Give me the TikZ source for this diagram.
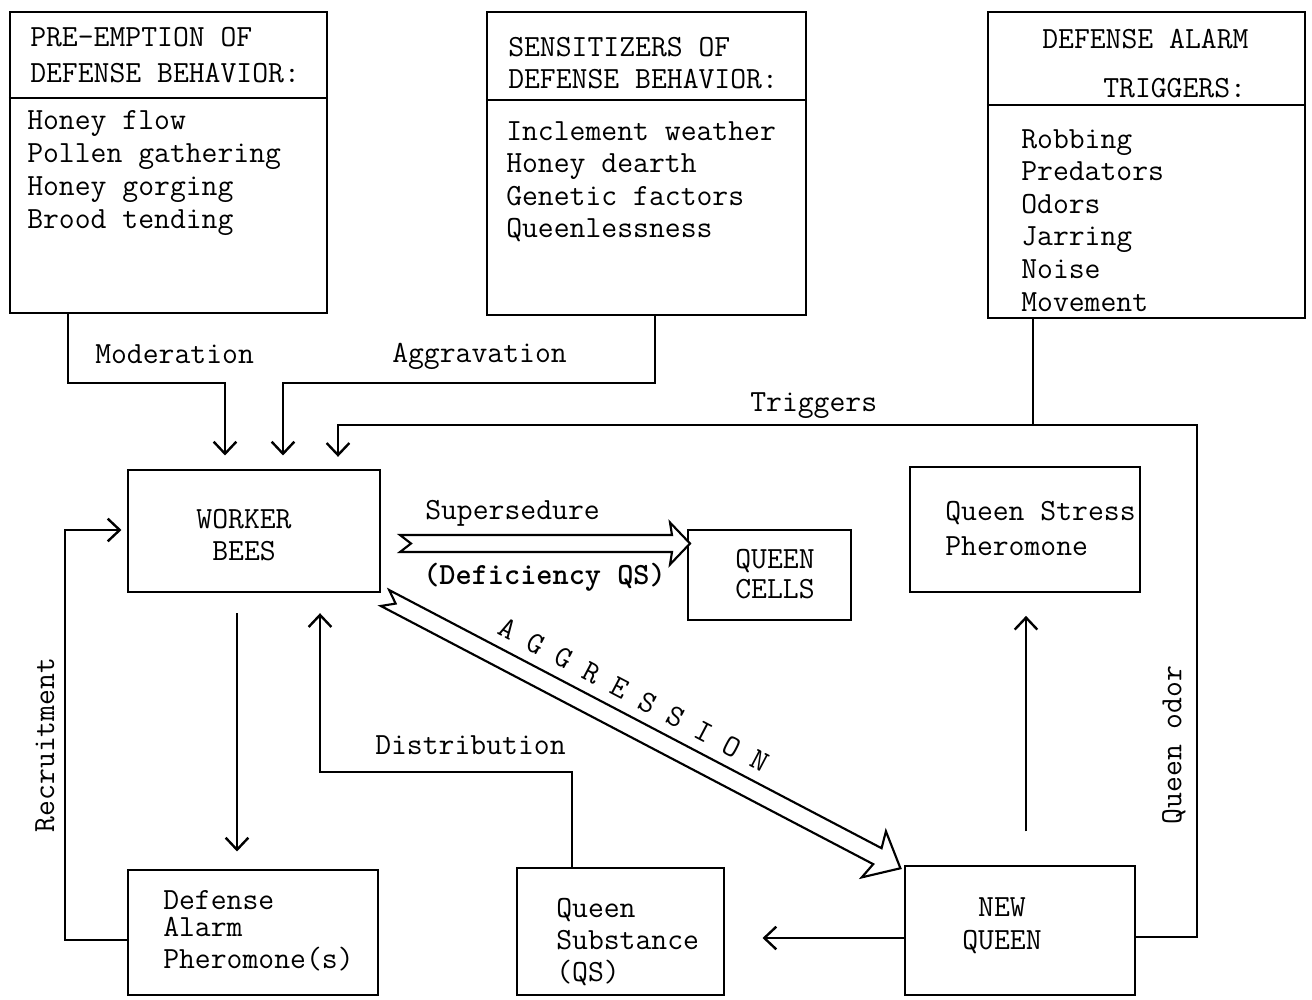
\documentclass[tikz,border=0pt]{standalone}
\usepackage{fontspec}
\usetikzlibrary{arrows.meta}
\newcommand\tw{\fontsize{23.1}{27}\selectfont\ttfamily}
\begin{document}
\begin{tikzpicture}[x=0.75pt,y=-0.75pt,
  box/.style 2 args={draw, line width=1.8pt, minimum width=#1*0.75pt, minimum height=#2*0.75pt, inner sep=0pt},
  txt/.style={font=\tw, inner sep=0pt, anchor=base west},
  ctxt/.style={font=\tw, inner sep=0pt, anchor=base},
  rtxt/.style={font=\tw, inner sep=0pt, rotate=90},
  conn/.style={line width=1.5pt},
  arr/.style={conn, -{Straight Barb[length=9pt,width=17pt,line width=1.8pt]}},
  harrow/.style={line width=1.6pt, fill=white, line join=miter}]
\useasboundingbox (0,0) rectangle (1312,999);

% ---------- top boxes ----------
\node[box={317}{301}] (pre) at (168.5,162.5) {};
\node[box={319}{303}] (sens) at (646.5,163.5) {};
\node[box={317}{306}] (trig) at (1146.5,165) {};
\coordinate (d1) at (0,98);
\coordinate (d2) at (0,100);
\coordinate (d3) at (0,105);
\draw[line width=1.8pt] (pre.west |- d1) -- (pre.east |- d1);
\draw[line width=1.8pt] (sens.west |- d2) -- (sens.east |- d2);
\draw[line width=1.8pt] (trig.west |- d3) -- (trig.east |- d3);

\node[txt] (pre-h1) at (30,47) {PRE-EMPTION OF};
\node[txt] (pre-h2) at (30,82) {DEFENSE BEHAVIOR:};
\foreach \t [count=\i] in {Honey flow,Pollen gathering,Honey gorging,Brood tending}
  \node[txt] (pre-b\i) at (27,{129+33*(\i-1)}) {\t};

\node[txt] (sens-h1) at (508,56) {SENSITIZERS OF};
\node[txt] (sens-h2) at (508,89) {DEFENSE BEHAVIOR:};
\foreach \t [count=\i] in {Inclement weather,Honey dearth,Genetic factors,Queenlessness}
  \node[txt] (sens-b\i) at (506,{140+32.5*(\i-1)}) {\t};

\node[txt] (trig-h1) at (1042,49) {DEFENSE ALARM};
\node[txt] (trig-h2) at (1103,98) {TRIGGERS:};
\foreach \t [count=\i] in {Robbing,Predators,Odors,Jarring,Noise,Movement}
  \node[txt] (trig-b\i) at (1021,{148+32.6*(\i-1)}) {\t};

% ---------- middle / bottom boxes ----------
\node[box={252}{122}] (worker) at (254,531) {};
\node[ctxt] (worker-t1) at (244,528) {WORKER};
\node[ctxt] (worker-t2) at (244,560) {BEES};

\node[box={163}{90}] (cells) at (769.5,575) {};
\node[ctxt] (cells-t1) at (775,568) {QUEEN};
\node[ctxt] (cells-t2) at (775,598) {CELLS};

\node[box={230}{125}] (qsp) at (1025,529.5) {};
\node[txt] (qsp-t1) at (945,520) {Queen Stress};
\node[txt] (qsp-t2) at (945,555) {Pheromone};

\node[box={250}{125}] (dap) at (253,932.5) {};
\node[txt] (dap-t1) at (163,909) {Defense};
\node[txt] (dap-t2) at (163,936) {Alarm};
\node[txt] (dap-t3) at (163,968) {Pheromone(s)};

\node[box={207}{127}] (qs) at (620.5,931.5) {};
\node[txt] (qs-t1) at (556,917) {Queen};
\node[txt] (qs-t2) at (556,949) {Substance};
\node[txt] (qs-t3) at (556,981) {(QS)};

\node[box={230}{129}] (newq) at (1020,930.5) {};
\node[ctxt] (newq-t1) at (1002,916) {NEW};
\node[ctxt] (newq-t2) at (1002,949) {QUEEN};

% ---------- connectors ----------
\coordinate (modA) at (68,383);
\coordinate (modB) at (225,383);
\draw[arr, shorten >=10pt] (pre.south -| modA) -- (modA) -- (modB) -- (worker.north -| modB);
\node[txt] (modL) at (95,363) {Moderation};

\coordinate (aggA) at (655,383);
\coordinate (aggB) at (283,383);
\draw[arr, shorten >=10pt] (sens.south -| aggA) -- (aggA) -- (aggB) -- (worker.north -| aggB);
\node[txt] (aggL) at (392,362) {Aggravation};

\coordinate (trA) at (1033,425);
\coordinate (trB) at (338,425);
\draw[arr, shorten >=9pt] (trig.south -| trA) -- (trA) -- (trB) -- (worker.north -| trB);
\node[txt] (trL) at (750,411) {Triggers};

\coordinate (qoA) at (1197,937);
\coordinate (qoB) at (1197,425);
\draw[conn] (newq.east |- qoA) -- (qoA) -- (qoB) -- (trA);
\node[rtxt] (qoL) at (1174,745) {Queen odor};

\coordinate (rA) at (65,940);
\coordinate (rB) at (65,530);
\draw[arr, shorten >=4pt] (dap.west |- rA) -- (rA) -- (rB) -- (worker.west |- rB);
\node[rtxt] (rL) at (45,745) {Recruitment};

\coordinate (dA) at (572,772);
\coordinate (dB) at (320,772);
\draw[arr, shorten >=15pt] (qs.north -| dA) -- (dA) -- (dB) -- (worker.south -| dB);
\node[txt] (dL) at (375,754) {Distribution};

\coordinate (wd) at (237,0);
\draw[arr, shorten <=15pt, shorten >=13pt] (worker.south -| wd) -- (dap.north -| wd);

\coordinate (nq) at (0,938);
\draw[arr, shorten >=28pt] (newq.west |- nq) -- (qs.east |- nq);

\coordinate (nqs) at (1026,0);
\draw[arr, shorten <=25pt, shorten >=17pt] (newq.north -| nqs) -- (qsp.south -| nqs);

% ---------- hollow arrows ----------
\coordinate (ssA) at (400,543.5);
\draw[harrow, shift={(ssA)}] (0,-8.5) -- (272,-8.5) -- (270,-21) -- (290,0) -- (270,21) -- (272,8.5) -- (0,8.5) -- (11,0) -- cycle;
\node[txt] (ssL) at (425,519) {Supersedure};
\node[txt, font=\tw\bfseries] (defL) at (423,584) {(Deficiency QS)};

\coordinate (agA) at (385,598);
\draw[harrow, shift={(agA)}, rotate=-27.67] (0,-9) -- (556,-9) -- (552,-26) -- (582,0) -- (552,26) -- (556,9) -- (0,9) -- (12,0) -- cycle;
\node[font=\tw, inner sep=0pt, rotate=-27.67] (agL) at (634,695) {A G G R E S S I O N};

\end{tikzpicture}
\end{document}
